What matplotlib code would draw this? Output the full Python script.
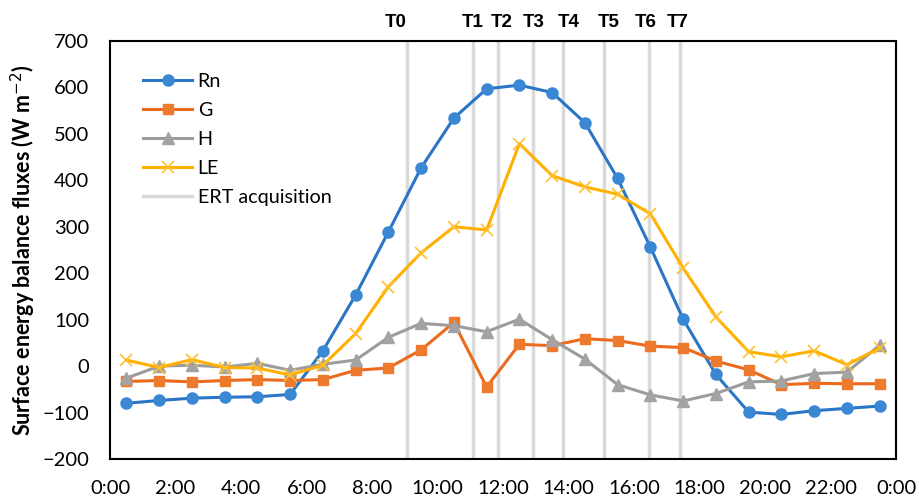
import matplotlib.pyplot as plt
import matplotlib.transforms as mtransforms
import numpy as np

plt.rcParams['font.family'] = ['Lato', 'DejaVu Sans']

# half-hourly means, 0:30 ... 23:30
hours = np.arange(24) + 0.5
rn = [-80, -74, -69, -67, -66, -61, 33, 153, 289, 427, 534, 597,
      605, 589, 524, 404, 256, 101, -18, -99, -104, -96, -91, -86]
g = [-33, -31, -34, -31, -29, -31, -29, -9, -4, 35, 94, -45,
     47, 44, 59, 55, 43, 40, 11, -8, -40, -37, -38, -38]
h = [-26, 0, 2, -2, 6, -9, 4, 13, 62, 92, 87, 74,
     101, 57, 15, -40, -62, -75, -59, -34, -32, -16, -13, 45]
le = [13, -3, 14, -3, -4, -19, 2, 70, 171, 244, 300, 293,
      479, 410, 386, 370, 328, 211, 106, 31, 20, 33, 3, 39]

ert_times = [9.07, 11.08, 11.85, 12.92, 13.83, 15.08, 16.46, 17.4]
ert_labels = ["T0", "T1", "T2", "T3", "T4", "T5", "T6", "T7"]
# label boxes sit slightly off their lines in the original
ert_label_x = [8.73, 11.08, 11.97, 12.95, 14.0, 15.23, 16.37, 17.34]

xticks = np.arange(0, 25, 2)
xticklabels = [f"{t % 24}:00" for t in xticks]

fig = plt.figure(figsize=(9.19, 4.98), dpi=100)
ax = fig.add_axes([0.1197, 0.0783, 0.8553, 0.8394])

for i, t in enumerate(ert_times):
    ax.axvline(t, color="#D9D9D9", lw=2.5, zorder=1,
               label="ERT acquisition" if i == 0 else None)

ax.plot(hours, rn, color="#2A76C6", lw=2.2, marker="o", ms=8,
        mfc="#3A87D4", mec="#3A87D4", label="Rn", zorder=3)
ax.plot(hours, g, color="#EC6A1E", lw=2.2, marker="s", ms=7,
        mfc="#EE7A2E", mec="#EE7A2E", label="G", zorder=3)
ax.plot(hours, h, color="#9C9C9C", lw=2.2, marker="^", ms=8,
        mfc="#A3A3A3", mec="#A3A3A3", label="H", zorder=3)
ax.plot(hours, le, color="#FFB000", lw=2.2, marker="x", ms=9,
        mew=1.2, mec="#FFC030", label="LE", zorder=3)

ax.set_xlim(0, 24)
ax.set_ylim(-200, 700)
ax.set_xticks(xticks)
ax.set_xticklabels(xticklabels)
ax.set_yticks(np.arange(-200, 701, 100))
ax.tick_params(length=0, labelsize=14.5)
ax.tick_params(axis="x", pad=15)
ax.tick_params(axis="y", pad=15)
for s in ax.spines.values():
    s.set_linewidth(1.5)
    s.set_color("black")

ax.set_ylabel("Surface energy balance fluxes (W m$^{-2}$)", fontsize=15.5,
              fontweight="bold", labelpad=3)

trans = mtransforms.blended_transform_factory(ax.transData, ax.transAxes)
for t, lab in zip(ert_label_x, ert_labels):
    ax.text(t, 1.025, lab, transform=trans, ha="center", va="bottom",
            fontsize=13.5, fontweight="bold", family="Liberation Sans")

handles, labels = ax.get_legend_handles_labels()
order = [labels.index(k) for k in ["Rn", "G", "H", "LE", "ERT acquisition"]]
ax.legend([handles[i] for i in order], [labels[i] for i in order],
          loc="upper left", bbox_to_anchor=(0.02, 0.965), frameon=False,
          fontsize=14.2, handlelength=2.45, labelspacing=0.6, handletextpad=0.3)

fig.savefig("out.png", dpi=100)
